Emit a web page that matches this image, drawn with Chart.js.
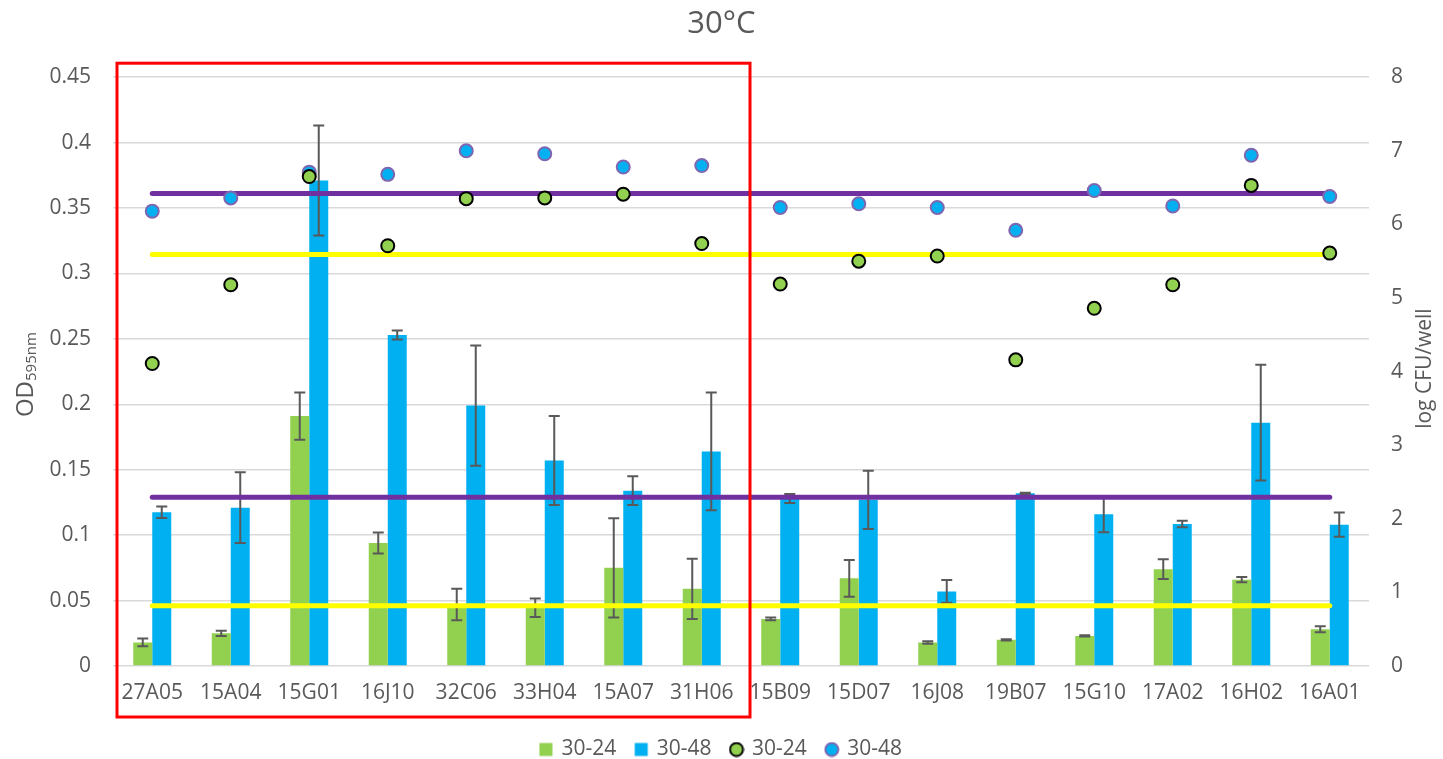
<!DOCTYPE html>
<html>
<head>
<meta charset="utf-8">
<title>30°C</title>
<script src="https://cdn.jsdelivr.net/npm/chart.js@4.4.1/dist/chart.umd.min.js"></script>
<style>
  html, body { margin: 0; padding: 0; background: #fff; }
  #wrap { width: 1443px; height: 759px; }
</style>
</head>
<body>
<div id="wrap"><canvas id="odChart" width="1443" height="759"></canvas></div>
<script>
// strains on the x axis
const categories = ['27A05', '15A04', '15G01', '16J10', '32C06', '33H04', '15A07', '31H06',
                    '15B09', '15D07', '16J08', '19B07', '15G10', '17A02', '16H02', '16A01'];

// OD595nm bars (left axis) and their error bars
const od24  = [0.018, 0.025, 0.191, 0.094, 0.047, 0.0445, 0.075, 0.059, 0.036, 0.067, 0.018, 0.020, 0.023, 0.074, 0.066, 0.028];
const err24 = [0.003, 0.002, 0.018, 0.008, 0.012, 0.007, 0.038, 0.023, 0.001, 0.014, 0.001, 0.0005, 0.0005, 0.0075, 0.002, 0.0023];
const od48  = [0.1175, 0.121, 0.371, 0.253, 0.199, 0.157, 0.134, 0.164, 0.128, 0.127, 0.057, 0.132, 0.116, 0.1085, 0.186, 0.108];
const err48 = [0.0044, 0.027, 0.042, 0.0034, 0.046, 0.034, 0.011, 0.045, 0.0035, 0.0223, 0.0087, 0.0005, 0.0137, 0.0025, 0.0443, 0.0093];

// log CFU/well markers (right axis)
const log24 = [4.11, 5.18, 6.65, 5.71, 6.35, 6.36, 6.41, 5.74, 5.19, 5.50, 5.57, 4.16, 4.86, 5.18, 6.53, 5.61];
const log48 = [6.18, 6.36, 6.71, 6.68, 7.00, 6.96, 6.78, 6.80, 6.23, 6.28, 6.23, 5.92, 6.46, 6.25, 6.94, 6.38];

// reference lines
const cfuRef48 = 6.42;   // purple, right axis
const cfuRef24 = 5.59;   // yellow, right axis
const odRef48 = 0.129;   // purple, left axis
const odRef24 = 0.046;   // yellow, left axis

const leftTicks  = ['0', '0.05', '0.1', '0.15', '0.2', '0.25', '0.3', '0.35', '0.4', '0.45'];
const rightTicks = ['0', '1', '2', '3', '4', '5', '6', '7', '8'];

const GREEN = '#92D050';
const BLUE = '#00B0F0';
const PURPLE = '#7030A0';
const YELLOW = '#FFFF00';
const TEXT = '#595959';
const FONT = "'Open Sans', sans-serif";

function refLine(value, color, axis) {
    return {
        type: 'line',
        data: [{x: categories[0], y: value}, {x: categories[categories.length - 1], y: value}],
        borderColor: color,
        borderWidth: 5,
        borderCapStyle: 'round',
        pointRadius: 0,
        pointHoverRadius: 0,
        yAxisID: axis,
        order: 2
    };
}

function legendMarker(fill, stroke, circle) {
    const c = document.createElement('canvas');
    c.width = 16; c.height = 16;
    const g = c.getContext('2d');
    if (circle) {
        g.beginPath();
        g.arc(8, 8, 6.5, 0, Math.PI * 2);
        g.fillStyle = fill;
        g.fill();
        g.lineWidth = 2;
        g.strokeStyle = stroke;
        g.stroke();
    } else {
        g.fillStyle = fill;
        g.fillRect(1.5, 1.5, 13, 13);
    }
    return c;
}
const legendMarkers = [
    legendMarker(GREEN, null, false),
    legendMarker(BLUE, null, false),
    legendMarker(GREEN, '#000000', true),
    legendMarker(BLUE, '#7E67B0', true)
];

// error bars, axis titles and the red box
const extras = {
    id: 'extras',
    afterLayout(chart) {
        // push the legend a bit lower, as in the original
        chart.legend.top += 11;
        chart.legend.bottom += 11;
    },
    afterDatasetDraw(chart, args) {
        const errs = [err24, err48][args.index];
        if (!errs) return;
        const vals = chart.data.datasets[args.index].data;
        const y = chart.scales.y;
        const ctx = chart.ctx;
        ctx.save();
        ctx.strokeStyle = '#595959';
        ctx.lineWidth = 2;
        args.meta.data.forEach((bar, i) => {
            const top = y.getPixelForValue(vals[i] + errs[i]);
            const bot = y.getPixelForValue(vals[i] - errs[i]);
            ctx.beginPath();
            ctx.moveTo(bar.x, top); ctx.lineTo(bar.x, bot);
            ctx.moveTo(bar.x - 5.5, top); ctx.lineTo(bar.x + 5.5, top);
            ctx.moveTo(bar.x - 5.5, bot); ctx.lineTo(bar.x + 5.5, bot);
            ctx.stroke();
        });
        ctx.restore();
    },
    afterDraw(chart) {
        const ctx = chart.ctx;
        const area = chart.chartArea;
        const x = chart.scales.x;

        ctx.save();
        ctx.fillStyle = TEXT;

        // left title with subscript
        ctx.save();
        ctx.translate(24, (area.top + area.bottom) / 2 + 3);
        ctx.rotate(-Math.PI / 2);
        ctx.font = '24px ' + FONT;
        const wOD = ctx.measureText('OD').width;
        ctx.font = '15px ' + FONT;
        const wSub = ctx.measureText('595nm').width;
        const start = -(wOD + wSub) / 2;
        ctx.textBaseline = 'alphabetic';
        ctx.font = '24px ' + FONT;
        ctx.fillText('OD', start, 9);
        ctx.font = '15px ' + FONT;
        ctx.fillText('595nm', start + wOD, 12);
        ctx.restore();

        // right title
        ctx.save();
        ctx.translate(1425, (area.top + area.bottom) / 2 - 3);
        ctx.rotate(-Math.PI / 2);
        ctx.font = '21px ' + FONT;
        ctx.textAlign = 'center';
        ctx.textBaseline = 'middle';
        ctx.fillText('log CFU/well', 0, 0);
        ctx.restore();

        // red box round the first eight strains
        const half = (x.getPixelForValue(1) - x.getPixelForValue(0)) / 2;
        const left = x.getPixelForValue(0) - half + 4;
        const right = x.getPixelForValue(7) + half + 9;
        ctx.strokeStyle = '#FF0000';
        ctx.lineWidth = 3;
        ctx.strokeRect(left, area.top - 14, right - left, area.bottom - area.top + 65);
        ctx.restore();
    }
};

const ctx = document.getElementById('odChart').getContext('2d');
const odChart = new Chart(ctx, {
    data: {
        labels: categories,
        datasets: [
            {type: 'bar', label: '30-24', data: od24, backgroundColor: GREEN, yAxisID: 'y', order: 3,
             categoryPercentage: 0.484, barPercentage: 1},
            {type: 'bar', label: '30-48', data: od48, backgroundColor: BLUE, yAxisID: 'y', order: 3,
             categoryPercentage: 0.484, barPercentage: 1},
            {type: 'line', label: '30-24', data: log24, showLine: false, yAxisID: 'y1', order: 1,
             pointRadius: 6.5, pointHoverRadius: 6.5, pointBackgroundColor: GREEN,
             pointBorderColor: '#000000', pointBorderWidth: 2},
            {type: 'line', label: '30-48', data: log48, showLine: false, yAxisID: 'y1', order: 1,
             pointRadius: 6.5, pointHoverRadius: 6.5, pointBackgroundColor: BLUE,
             pointBorderColor: '#7E67B0', pointBorderWidth: 2},
            refLine(cfuRef48, PURPLE, 'y1'),
            refLine(cfuRef24, YELLOW, 'y1'),
            refLine(odRef48, PURPLE, 'y'),
            refLine(odRef24, YELLOW, 'y')
        ]
    },
    options: {
        responsive: false,
        animation: false,
        devicePixelRatio: 1,
        layout: {padding: 0},
        plugins: {
            title: {
                display: true,
                text: '30°C',
                color: TEXT,
                font: {family: FONT, size: 31, weight: 'normal'},
                padding: {top: 6, bottom: 34}
            },
            legend: {
                position: 'bottom',
                labels: {
                    usePointStyle: true,
                    boxWidth: 10,
                    boxHeight: 16,
                    padding: 20,
                    color: TEXT,
                    font: {family: FONT, size: 21},
                    filter: item => item.datasetIndex < 4,
                    sort: (a, b) => a.datasetIndex - b.datasetIndex,
                    generateLabels(chart) {
                        const items = Chart.defaults.plugins.legend.labels.generateLabels(chart);
                        items.forEach(item => {
                            if (item.datasetIndex < 4) item.pointStyle = legendMarkers[item.datasetIndex];
                        });
                        return items;
                    }
                }
            },
            tooltip: {enabled: false}
        },
        scales: {
            x: {
                grid: {display: false},
                border: {display: false},
                ticks: {color: TEXT, font: {family: FONT, size: 21}, maxRotation: 0, autoSkip: false, padding: 6},
                afterFit(scale) { scale.height = 42; }
            },
            y: {
                position: 'left',
                min: 0,
                max: 0.45,
                grid: {color: '#D9D9D9', lineWidth: 1.5, drawTicks: false},
                border: {display: false},
                ticks: {
                    stepSize: 0.05,
                    color: TEXT,
                    font: {family: FONT, size: 21},
                    padding: 22,
                    callback: (v, i) => leftTicks[i]
                },
                afterFit(scale) { scale.width = 113; }
            },
            y1: {
                position: 'right',
                min: 0,
                max: 8,
                grid: {display: false, drawTicks: false},
                border: {display: false},
                ticks: {
                    stepSize: 1,
                    color: TEXT,
                    font: {family: FONT, size: 21},
                    padding: 22,
                    callback: (v, i) => rightTicks[i]
                },
                afterFit(scale) { scale.width = 74; }
            }
        }
    },
    plugins: [extras]
});
</script>
</body>
</html>
